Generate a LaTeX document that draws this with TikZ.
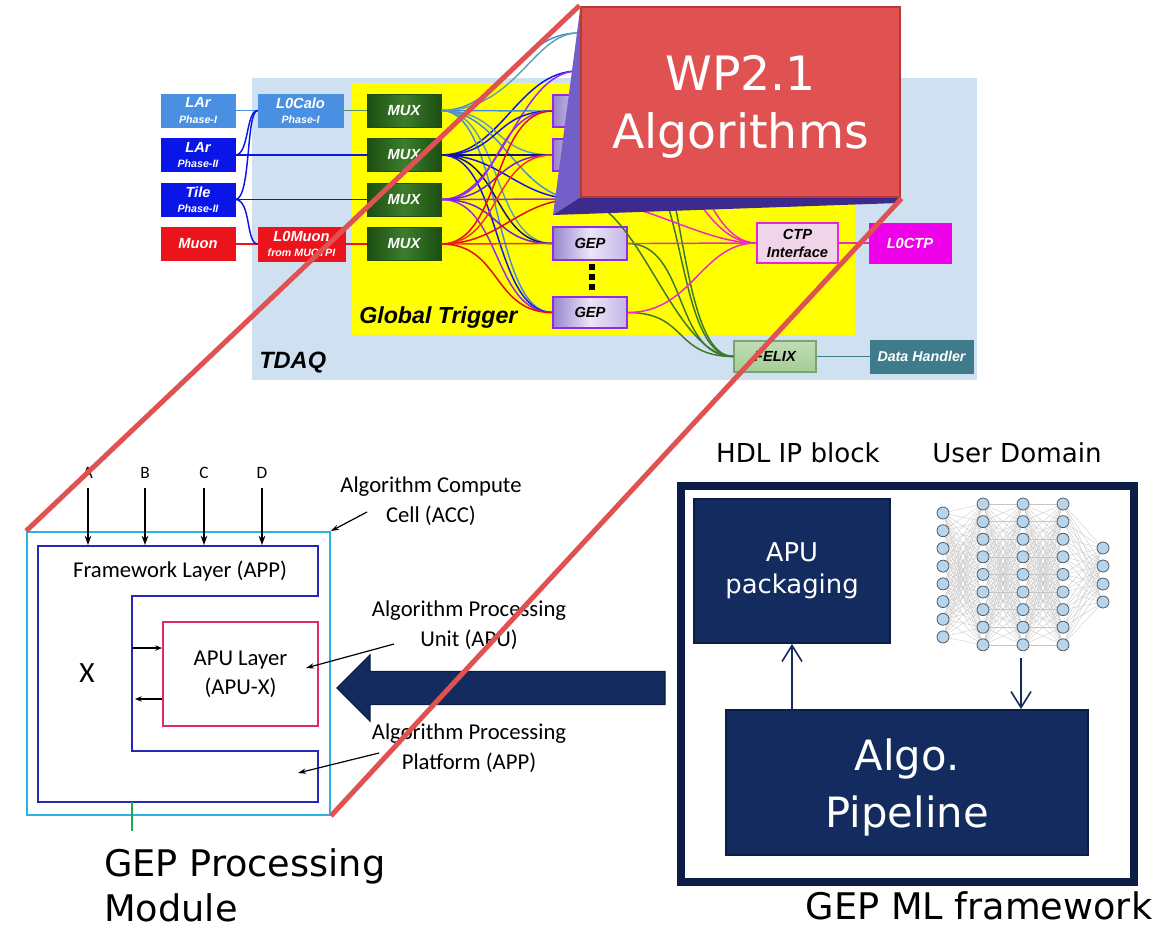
\documentclass[tikz,border=0pt]{standalone}
\usepackage{fontspec}
\setmainfont{DejaVu Sans}
\newfontfamily\trig{Liberation Sans}
\newfontfamily\accfont{Carlito}
\usetikzlibrary{arrows.meta}

% TDAQ colours
\definecolor{tdaqbg}{RGB}{207,224,240}
\definecolor{gtyellow}{RGB}{255,255,0}
\definecolor{larA}{RGB}{74,144,226}
\definecolor{larB}{RGB}{10,22,232}
\definecolor{muonred}{RGB}{236,20,28}
\definecolor{muxdark}{RGB}{26,78,18}
\definecolor{muxlight}{RGB}{62,124,44}
\definecolor{geplight}{RGB}{236,230,248}
\definecolor{gepdark}{RGB}{150,132,205}
\definecolor{gepmid}{RGB}{196,182,230}
\definecolor{gepedge}{RGB}{150,40,230}
\definecolor{ctpfill}{RGB}{240,212,232}
\definecolor{ctpedge}{RGB}{230,40,210}
\definecolor{loctp}{RGB}{238,0,232}
\definecolor{felixfill}{RGB}{165,205,150}
\definecolor{felixedge}{RGB}{120,165,115}
\definecolor{dhfill}{RGB}{62,124,140}
\definecolor{wA}{RGB}{70,140,215}
\definecolor{wA2}{RGB}{100,160,175}
\definecolor{wB}{RGB}{20,20,230}
\definecolor{wB2}{RGB}{20,20,110}
\definecolor{wC}{RGB}{150,40,240}
\definecolor{wC2}{RGB}{110,30,220}
\definecolor{wD}{RGB}{230,10,10}
\definecolor{wD2}{RGB}{250,45,45}
\definecolor{calowire}{RGB}{90,140,110}
\definecolor{ctpwire}{RGB}{240,40,200}
\definecolor{felixwire}{RGB}{60,120,40}
\definecolor{dhwire}{RGB}{62,124,140}
% work package box
\definecolor{wpred}{RGB}{224,82,82}
\definecolor{wpedge}{RGB}{182,56,56}
\definecolor{shadeL}{RGB}{115,95,200}
\definecolor{shadeB}{RGB}{62,42,140}
% ML framework
\definecolor{navy}{RGB}{19,43,94}
\definecolor{navyedge}{RGB}{12,30,70}
\definecolor{nnfill}{RGB}{184,212,234}
\definecolor{nnedge}{RGB}{80,90,100}
% compute cell
\definecolor{acccyan}{RGB}{40,180,230}
\definecolor{fwblue}{RGB}{40,40,180}
\definecolor{apupink}{RGB}{225,40,110}
\definecolor{stubgreen}{RGB}{30,170,80}

\newcommand\phs[1]{{\fontsize{8}{9}\selectfont #1}}

\tikzset{
  tbox/.style={draw, inner sep=0pt, align=center, text=white,
    font=\trig\bfseries\itshape\fontsize{11}{11.5}\selectfont},
  lbox/.style={tbox, minimum width=55.5pt, minimum height=24.75pt},
  muxbox/.style={lbox, draw=muxdark, left color=muxdark, right color=muxdark, middle color=muxlight},
  gepbox/.style={tbox, text=black, minimum width=55.5pt, draw=gepedge, line width=1.1pt,
    left color=gepdark, right color=gepmid, middle color=geplight},
  feed/.style={line width=1.1pt},
  nnline/.style={draw=gray!45, line width=0.25pt},
  neuron/.style={circle, draw=nnedge, fill=nnfill, line width=0.6pt, minimum size=9pt, inner sep=0pt},
  navybox/.style={fill=navy, draw=navyedge, line width=1.5pt, inner sep=0pt, text=white, align=center},
  navyarr/.style={draw=navy, line width=1.2pt, -{Straight Barb[length=12pt,width=15pt,line width=1.2pt]}},
  lbl/.style={font=\accfont\fontsize{17}{22.5}\selectfont, align=center, inner sep=0pt},
  inarr/.style={line width=1.5pt, -{Stealth[length=7pt,width=5pt]}},
  larr/.style={line width=0.9pt, -{Stealth[length=6pt,width=4pt]}},
  sarr/.style={line width=1pt, -{Stealth[length=5pt,width=4pt]}},
  redline/.style={draw=wpred, line width=3.75pt},
}

\begin{document}
\begin{tikzpicture}[x=0.75pt,y=-0.75pt]
\path[use as bounding box] (0,0) rectangle (1168,933);

% ---------------- TDAQ overview ----------------
\node[fill=tdaqbg, minimum width=543.75pt, minimum height=226.5pt, inner sep=0pt] (tdaq) at (614.5,229) {};
\node[fill=gtyellow, minimum width=377.25pt, minimum height=189pt, inner sep=0pt] (gt) at (603.5,209) {};
\node[anchor=base west, inner sep=0pt, font=\trig\bfseries\itshape\fontsize{17.7}{20}\selectfont] (tdaqlbl) at (259,368) {TDAQ};
\node[anchor=base west, inner sep=0pt, font=\trig\bfseries\itshape\fontsize{17.4}{20}\selectfont] (gtlbl) at (359,323) {Global Trigger};

% detector inputs
\node[lbox, fill=larA, draw=larA] (lar1) at (198,110.5) {LAr\\\phs{Phase-I}};
\node[lbox, fill=larB, draw=larB] (lar2) at (198,155) {LAr\\\phs{Phase-II}};
\node[lbox, fill=larB, draw=larB] (tile) at (198,199.5) {Tile\\\phs{Phase-II}};
\node[lbox, fill=muonred, draw=muonred] (muon) at (198,244) {Muon};
\node[lbox, fill=larA, draw=larA, minimum width=63.75pt] (l0calo) at (300.5,110.5) {L0Calo\\\phs{Phase-I}};
\node[lbox, fill=muonred, draw=muonred, minimum width=65.25pt, minimum height=25.5pt] (l0muon) at (301.5,244) {L0Muon\\\phs{from MUCTPI}};

% multiplexers
\node[muxbox] (mux1) at (404,110.5) {MUX};
\node[muxbox] (mux2) at (404,155) {MUX};
\node[muxbox] (mux3) at (404,199.5) {MUX};
\node[muxbox] (mux4) at (404,244) {MUX};

% processors (the third one sits behind the work package block)
\node[gepbox, minimum height=24pt] (gep1) at (590,111) {};
\node[gepbox, minimum height=24pt] (gep2) at (590,155) {};
\coordinate (gep3) at (578,199);
\node[gepbox, minimum height=24.75pt] (gep4) at (590,243.5) {GEP};
\node[gepbox, minimum height=23.25pt] (gep5) at (590,312.5) {GEP};
\foreach \k in {0,1,2} \fill (589,{264+10*\k}) rectangle +(6,6);

\node[tbox, text=black, fill=ctpfill, draw=ctpedge, line width=1.1pt, minimum width=60.75pt, minimum height=30pt,
  font=\trig\bfseries\itshape\fontsize{11}{13.5}\selectfont] (ctp) at (797.5,243) {CTP\\Interface};
\node[tbox, fill=loctp, draw=loctp, minimum width=61.5pt, minimum height=30pt] (l0ctp) at (910,243) {L0CTP};
\node[tbox, text=black, top color=felixfill!70!white, bottom color=felixfill, draw=felixedge, line width=1pt,
  minimum width=61.5pt, minimum height=23.25pt] (felix) at (775,356.5) {FELIX};
\node[tbox, fill=dhfill, draw=dhfill, minimum width=77.25pt, minimum height=24.75pt,
  font=\trig\bfseries\itshape\fontsize{10.7}{11.5}\selectfont] (datah) at (921.5,356.5) {Data Handler};

% input links
\draw[feed, larA] (lar1.east) -- (l0calo.west);
\draw[feed, calowire] (l0calo.east) -- (mux1.west);
\draw[feed, larB] (lar2.east) -- (mux2.west);
\draw[feed, larB] (tile.east) -- (mux3.west);
\draw[feed, muonred] (muon.east) -- (l0muon.west);
\draw[feed, muonred] (l0muon.east) -- (mux4.west);
\draw[feed, larB] (lar2.east) .. controls +(14,0) and +(-12,0) .. (l0calo.west);
\draw[feed, larB] (tile.east) .. controls +(16,0) and +(-12,0) .. (l0calo.west);
\draw[feed, larB] (tile.east) .. controls +(16,0) and +(-12,0) .. (l0muon.west);

% MUX to GEP fan-out
\coordinate (hidA) at (578,33);
\coordinate (hidB) at (578,71);
\draw[feed, color=wA] (mux1.east) .. controls +(60,0) and +(-60,0) .. (hidA);
\draw[feed, color=wA2] (mux1.east) .. controls +(75,0) and +(-45,0) .. (hidA);
\draw[feed, color=wB] (mux2.east) .. controls +(60,0) and +(-60,0) .. (hidB);
\draw[feed, color=wC] (mux3.east) .. controls +(60,0) and +(-60,0) .. (hidB);
\foreach \m/\ca/\cb in {mux1/wA/wA2, mux2/wB/wB2, mux3/wC/wC2, mux4/wD/wD2}{
  \foreach \g [count=\k] in {gep1.west,gep2.west,gep3,gep4.west,gep5.west}{
    \ifodd\k \def\wirecol{\ca}\else\def\wirecol{\cb}\fi
    \draw[feed, color=\wirecol] (\m.east) .. controls +(60,0) and +(-60,0) .. (\g);
  }
}

% GEP outputs
\foreach \g in {gep1.east,gep2.east,gep3,gep4.east,gep5.east}{
  \draw[feed, color=felixwire] (\g) .. controls +(60,0) and +(-60,0) .. (felix.west);
  \draw[feed, color=ctpwire] (\g) .. controls +(65,0) and +(-55,0) .. (ctp.west);
}
\draw[feed, color=ctpwire] (ctp.east) -- (l0ctp.west);
\draw[feed, color=dhwire] (felix.east) -- (datah.west);

% ---------------- WP2.1 block ----------------
\fill[shadeL] (580,10) -- (553,215) -- (581,197) -- cycle;
\fill[shadeB] (553,215) -- (581,197) -- (900,197) -- (898,203) -- cycle;
\node[fill=wpred, draw=wpedge, line width=2.2pt, minimum width=239.25pt, minimum height=142.5pt, inner sep=0pt] (wp) at (740.5,102) {};
\node[text=white, align=center, inner sep=0pt, font=\fontsize{35.5}{43.5}\selectfont] (wptext) at (740.5,107) {WP2.1\\Algorithms};

% ---------------- GEP ML framework ----------------
\node[draw=navyedge, line width=6pt, minimum width=339.75pt, minimum height=297pt, inner sep=0pt] (mlframe) at (907.5,684) {};
\node[navybox, minimum width=147pt, minimum height=108pt, font=\fontsize{19.4}{24}\selectfont] (apupack) at (792,571) {APU\\packaging};
\node[navybox, minimum width=271.5pt, minimum height=108.75pt] (pipe) at (907,782.5) {};
\node[text=white, align=center, inner sep=0pt, font=\fontsize{31.3}{42.75}\selectfont] (pipetext) at (907,787.5) {Algo.\\Pipeline};
\node[inner sep=0pt, font=\fontsize{19.6}{22}\selectfont] (hdl) at (798,453) {HDL IP block};
\node[inner sep=0pt, font=\fontsize{19.6}{22}\selectfont] (userdom) at (1017,453) {User Domain};
\node[anchor=base, inner sep=0pt, font=\fontsize{27.5}{30}\selectfont] (mllbl) at (979,919) {GEP ML framework};

% neural network
\foreach \i in {0,...,7} \coordinate (nnA-\i) at (943,{513+17.71*\i});
\foreach \i in {0,...,8}{
  \coordinate (nnB-\i) at (983,{504+17.6*\i});
  \coordinate (nnC-\i) at (1023,{504+17.6*\i});
  \coordinate (nnD-\i) at (1063,{504+17.6*\i});
}
\foreach \i in {0,...,3} \coordinate (nnE-\i) at (1103,{548+18*\i});
\foreach \i in {0,...,7}{\foreach \j in {0,...,8}{\draw[nnline] (nnA-\i) -- (nnB-\j);}}
\foreach \i in {0,...,8}{\foreach \j in {0,...,8}{\draw[nnline] (nnB-\i) -- (nnC-\j); \draw[nnline] (nnC-\i) -- (nnD-\j);}}
\foreach \i in {0,...,8}{\foreach \j in {0,...,3}{\draw[nnline] (nnD-\i) -- (nnE-\j);}}
\foreach \L/\n in {A/7,B/8,C/8,D/8,E/3}{
  \foreach \i in {0,...,\n} \node[neuron] (u\L-\i) at (nn\L-\i) {};
}

\coordinate (nnout) at (1021,658);
\draw[navyarr] (apupack.south |- pipe.north) -- (apupack.south);
\draw[navyarr] (nnout) -- (nnout |- pipe.north);

% block arrow into the compute cell
\filldraw[fill=navy, draw=navyedge, line width=1pt]
  (665,671.5) -- (370,671.5) -- (370,655) -- (337,688) -- (370,721) -- (370,704.5) -- (665,704.5) -- cycle;

% ---------------- Algorithm Compute Cell ----------------
\node[draw=acccyan, line width=1.4pt, minimum width=227.25pt, minimum height=212.25pt, inner sep=0pt] (acc) at (178.5,673.5) {};
\draw[draw=fwblue, line width=1.5pt]
  (38,546) -- (318,546) -- (318,596) -- (132,596) -- (132,751) -- (318,751) -- (318,802) -- (38,802) -- cycle;
\node[draw=apupink, line width=1.5pt, minimum width=116.25pt, minimum height=78pt, inner sep=0pt,
  font=\accfont\fontsize{17}{21.75}\selectfont, align=center] (apu) at (240.5,674) {APU Layer\\(APU-X)};
\node[inner sep=0pt, font=\accfont\fontsize{17}{20}\selectfont] (fwlbl) at (180,571) {Framework Layer (APP)};
\node[inner sep=0pt, font=\accfont\fontsize{22}{24}\selectfont] (xlbl) at (87,673) {X};

\foreach \l/\x in {A/88,B/145,C/204,D/262}{
  \node[inner sep=0pt, font=\accfont\fontsize{13}{14}\selectfont] (in\l) at (\x,473) {\l};
  \coordinate (top\l) at (\x,545);
  \draw[inarr, shorten <=7pt] (in\l.south) -- (top\l);
}

\coordinate (ain) at (132,648);
\draw[sarr] (ain) -- (ain -| apu.west);
\coordinate (aout) at (135,699);
\draw[sarr] (aout -| apu.west) -- (aout);

\coordinate (stubA) at (132,802);
\coordinate (stubB) at (132,831);
\draw[stubgreen, line width=1.5pt] (stubA) -- (stubB);

\node[lbl] (accl) at (431,501) {Algorithm Compute\\Cell (ACC)};
\coordinate (accfrom) at (367,512);
\draw[larr] (accfrom) -- (acc.north east);
\node[lbl] (apul) at (469,625) {Algorithm Processing\\Unit (APU)};
\coordinate (apufrom) at (394,644);
\coordinate (aputo) at (306,668);
\draw[larr] (apufrom) -- (aputo);
\node[lbl] (appl) at (469,748) {Algorithm Processing\\Platform (APP)};
\coordinate (appfrom) at (379,753);
\coordinate (appto) at (298,773);
\draw[larr] (appfrom) -- (appto);

\node[anchor=west, align=left, inner sep=0pt, font=\fontsize{27.5}{33.75}\selectfont] (geplbl) at (104,885.7) {GEP Processing\\Module};

% zoom lines from the work package to the compute cell
\draw[redline] (wp.north west) -- (acc.north west);
\draw[redline] (wp.south east) -- (acc.south east);
\end{tikzpicture}
\end{document}
